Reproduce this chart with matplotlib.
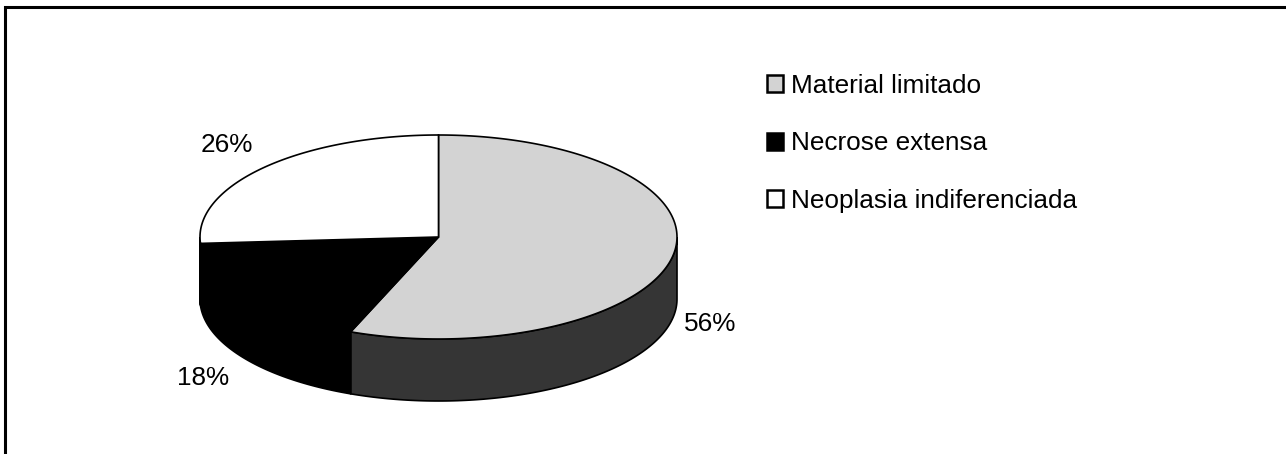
import numpy as np
import matplotlib.pyplot as plt
from matplotlib.patches import Polygon, Patch
from matplotlib.lines import Line2D

plt.rcParams['font.family'] = ['Liberation Sans', 'DejaVu Sans']

# data
categories = ['Material limitado', 'Necrose extensa', 'Neoplasia indiferenciada']
percents = [56, 18, 26]
top_colors = ['#d3d3d3', '#000000', '#ffffff']
side_colors = ['#353535', '#000000', '#ffffff']

# figure in pixel-like coordinates
fig = plt.figure(figsize=(12.86, 4.54), dpi=100)
ax = fig.add_axes([0, 0, 1, 1])
ax.set_xlim(0, 1286)
ax.set_ylim(454, 0)
ax.axis('off')

# pie geometry (ellipse centre, radii, thickness)
cx, cy = 438.5, 237
rx, ry = 238.5, 102
depth = 62


def pt(theta, dy=0):
    return cx + rx * np.cos(theta), cy - ry * np.sin(theta) + dy


# slices go clockwise starting at 12 o'clock
angles = []
start = 90.0
for p in percents:
    end = start - p * 3.6
    angles.append((end, start))
    start = end

# side walls (only front half visible: 180..360 deg)
for (a, b), col in zip(angles, side_colors):
    a, b = a % 360, b % 360
    if b <= a:
        b += 360
    lo, hi = max(a, 180), min(b, 360)
    if hi - lo <= 0:
        continue
    th = np.radians(np.linspace(lo, hi, 120))
    xs, ys = pt(th)
    xb, yb = pt(th[::-1], depth)
    poly = np.column_stack([np.r_[xs, xb], np.r_[ys, yb]])
    ax.add_patch(Polygon(poly, closed=True, facecolor=col, edgecolor='black',
                         linewidth=1.2, zorder=1))

# top faces
for (a, b), col in zip(angles, top_colors):
    th = np.radians(np.linspace(a, b, 200))
    xs, ys = pt(th)
    poly = np.column_stack([np.r_[cx, xs], np.r_[cy, ys]])
    ax.add_patch(Polygon(poly, closed=True, facecolor=col, edgecolor='black',
                         linewidth=1.2, zorder=2))

# percentage labels outside the slices
for (a, b), p in zip(angles, percents):
    mid = np.radians((a + b) / 2)
    kx = 1.16 if np.cos(mid) > 0 else 1.22
    x = cx + rx * np.cos(mid) * kx
    y = cy - ry * np.sin(mid) * 1.32
    if np.sin(mid) < 0:
        y += depth
    ax.text(x, y, f'{p}%', ha='center', va='center', fontsize=18.8, zorder=3)

# legend
handles = [Patch(facecolor=c, edgecolor='black', linewidth=1.8) for c in top_colors]
ax.legend(handles, categories, loc='upper left', bbox_to_anchor=(767, 74),
          bbox_transform=ax.transData, frameon=False, fontsize=18.8,
          handlelength=0.62, handleheight=0.62, handletextpad=0.3,
          labelspacing=1.28, borderpad=0, borderaxespad=0)

# chart area border (top and left visible)
ax.add_line(Line2D([5, 5, 1286], [454, 7, 7], color='black', linewidth=2.2,
                   solid_joinstyle='miter'))

fig.savefig('out.png', dpi=100)
